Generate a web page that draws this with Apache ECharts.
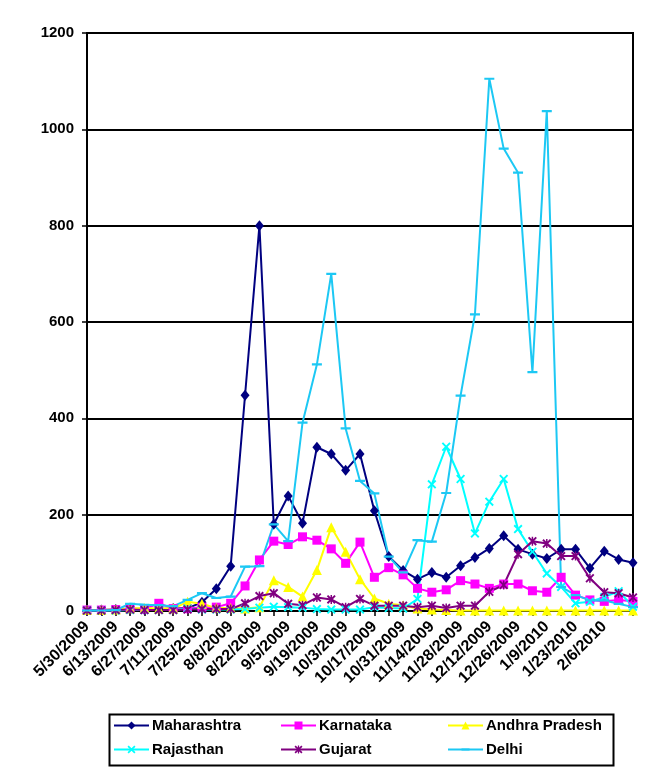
<!DOCTYPE html>
<html>
<head>
<meta charset="utf-8">
<script src="https://cdn.jsdelivr.net/npm/echarts@6/dist/echarts.min.js"></script>
<style>
html,body{margin:0;padding:0;background:#fff;}
#chart{width:665px;height:777px;}
</style>
</head>
<body>
<div id="chart"></div>
<script>
var categories = ["5/30/2009","6/6/2009","6/13/2009","6/20/2009","6/27/2009","7/4/2009","7/11/2009","7/18/2009","7/25/2009","8/1/2009","8/8/2009","8/15/2009","8/22/2009","8/29/2009","9/5/2009","9/12/2009","9/19/2009","9/26/2009","10/3/2009","10/10/2009","10/17/2009","10/24/2009","10/31/2009","11/7/2009","11/14/2009","11/21/2009","11/28/2009","12/5/2009","12/12/2009","12/19/2009","12/26/2009","1/2/2010","1/9/2010","1/16/2010","1/23/2010","1/30/2010","2/6/2010","2/13/2010","2/20/2010"];

var maharashtra = [2,2,3,3,3,4,5,6,18,46,93,448,800,180,239,182,340,326,292,326,208,113,84,66,80,70,94,111,130,156,128,118,109,128,128,89,124,107,100];
var karnataka   = [2,2,3,5,4,16,5,5,8,8,16,52,106,145,138,154,147,129,99,143,70,90,75,47,39,44,63,56,47,56,56,42,39,70,33,23,20,23,20];
var andhra      = [2,2,3,5,6,5,5,19,15,6,6,5,8,64,50,30,85,174,123,66,26,15,12,5,3,2,1,1,1,1,1,1,1,1,1,1,1,1,1];
var rajasthan   = [1,1,1,2,2,2,2,5,3,3,3,4,7,9,8,7,4,3,3,3,8,6,5,25,263,341,274,161,227,274,170,123,78,50,16,19,29,41,9];
var gujarat     = [1,1,2,3,2,2,2,3,4,4,4,16,31,37,15,12,28,24,8,25,11,11,11,8,11,6,11,11,40,54,118,145,140,114,114,68,39,37,28];
var delhi       = [1,1,2,15,13,12,10,23,37,27,30,92,93,180,145,391,512,700,379,270,244,113,80,147,144,245,447,616,1105,960,910,496,1038,50,33,22,22,15,8];

var yMin = 0, yMax = 1200, yStep = 200;
var lastLabelIndex = 36;

var xPath = 'path://M0,1.5L1.5,0L5,3.5L8.5,0L10,1.5L6.5,5L10,8.5L8.5,10L5,6.5L1.5,10L0,8.5L3.5,5Z';
var starPath = 'path://M0,1.5L1.5,0L5,3.5L8.5,0L10,1.5L6.5,5L10,8.5L8.5,10L5,6.5L1.5,10L0,8.5L3.5,5Z M4.2,0L5.8,0L5.8,10L4.2,10Z';
var dashPath = 'path://M0,0L0.01,0L0.01,0.01Z M0,3.9L10,3.9L10,6.1L0,6.1Z M9.99,10L10,10L10,9.99Z';

function mkSeries(name, data, color, symbol, size) {
  return {
    name: name, type: 'line', data: data,
    symbol: symbol, symbolSize: size, showAllSymbol: true,
    lineStyle: {color: color, width: 2},
    itemStyle: {color: color, borderWidth: 0},
    emphasis: {disabled: true},
    animation: false
  };
}

var FONT = 'Liberation Sans, Arial, sans-serif';

function mkLegend(name, left, top) {
  return {
    data: [name], left: left, top: top, padding: 0,
    itemWidth: 35, itemHeight: 10, itemGap: 0,
    selectedMode: false,
    textStyle: {fontFamily: FONT, fontSize: 15, fontWeight: 'bold', color: '#000', padding: [0,0,0,-2]}
  };
}

var chart = echarts.init(document.getElementById('chart'), null, {renderer: 'canvas'});
chart.setOption({
  backgroundColor: '#fff',
  animation: false,
  grid: {left: 87, right: 32, top: 33, bottom: 166, show: true, borderColor: '#000', borderWidth: 2, containLabel: false},
  xAxis: {
    type: 'category', data: categories, boundaryGap: false,
    axisLine: {lineStyle: {color: '#000', width: 2}},
    axisTick: {show: true, interval: 0, length: 5, lineStyle: {color: '#000', width: 1.5}},
    axisLabel: {
      interval: function (idx) { return idx % 2 === 0 && idx <= lastLabelIndex; },
      rotate: 45, margin: 13, color: '#000', fontFamily: FONT, fontSize: 16, fontWeight: 'bold'
    },
    splitLine: {show: false}
  },
  yAxis: {
    type: 'value', min: yMin, max: yMax, interval: yStep,
    axisLine: {show: true, lineStyle: {color: '#000', width: 2}},
    axisTick: {show: true, length: 5, lineStyle: {color: '#000', width: 1.5}},
    axisLabel: {margin: 13, color: '#000', fontFamily: FONT, fontSize: 15, fontWeight: 'bold',
      formatter: function (v) { return String(v); }},
    splitLine: {show: true, lineStyle: {color: '#000', width: 2}}
  },
  legend: [
    mkLegend('Maharashtra', 113, 718),
    mkLegend('Karnataka', 280, 718),
    mkLegend('Andhra Pradesh', 447, 718),
    mkLegend('Rajasthan', 113, 742),
    mkLegend('Gujarat', 280, 742),
    mkLegend('Delhi', 447, 742)
  ],
  graphic: [{
    type: 'rect', left: 107, top: 712, silent: true,
    shape: {width: 504, height: 51},
    style: {fill: 'none', stroke: '#000', lineWidth: 2}
  }],
  series: [
    mkSeries('Maharashtra', maharashtra, '#000080', 'diamond', [9, 11]),
    mkSeries('Karnataka', karnataka, '#FF00FF', 'rect', 9),
    mkSeries('Andhra Pradesh', andhra, '#FFFF00', 'triangle', 10),
    mkSeries('Rajasthan', rajasthan, '#00FFFF', xPath, 9),
    mkSeries('Gujarat', gujarat, '#800080', starPath, 9),
    mkSeries('Delhi', delhi, '#1CC8F4', dashPath, 10)
  ]
});
</script>
</body>
</html>
